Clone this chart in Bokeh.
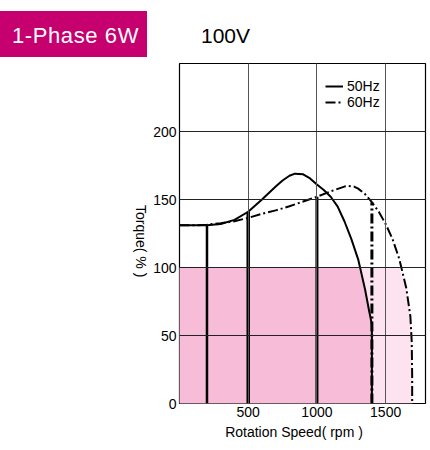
import numpy as np
from bokeh.plotting import figure
from bokeh.models import Range1d, FixedTicker, Legend, LegendItem, Div
from bokeh.layouts import column, row
from bokeh.embed import file_html
from bokeh.resources import INLINE

# ---- data ----
speed_50 = [0, 100, 200, 300, 400, 500, 600, 700, 750, 800, 840, 900, 950, 1000,
            1050, 1100, 1150, 1200, 1250, 1300, 1350, 1380, 1400, 1400]
torque_50 = [131, 131, 131, 132, 135, 141, 150, 159.5, 164, 167.5, 169, 168.5, 165.5, 161,
             157, 152, 145, 134, 121, 106, 84, 68, 58, 0]

speed_60 = [0, 100, 200, 300, 400, 500, 600, 700, 800, 900, 1000, 1100, 1200, 1230,
            1270, 1300, 1350, 1400, 1450, 1500, 1550, 1600, 1650, 1680, 1690, 1693, 1693]
torque_60 = [131, 131, 131.5, 132.5, 134, 136.5, 139.5, 142, 145, 148.5, 152, 156, 159.5, 160,
             159.5, 158, 154, 148, 141, 132, 121, 106, 85, 64, 45, 20, 0]

op_speed = [200, 500, 1000]          # operating-point drop lines (solid)
op_torque = [131, 141, 152]
op60_speed = [1400]                  # operating-point drop line (dash-dot)
op60_torque = [148]

rated_torque = 100
x_ticks = [500, 1000, 1500]
y_ticks = [0, 50, 100, 150, 200]
x_max, y_max = 1790, 250

title_text = "1-Phase 6W"
voltage_text = "100V"
y_label = "Torque( % )"
x_label = "Rotation Speed( rpm )"

# ---- layout ----
PAGE_W = 428
HEAD_H = 60
YLAB_W = 150
BL, BR, BT, BB = 28, 3, 3, 22
FW, FH = 247, 340
FIG_W = BL + FW + BR
FIG_H = BT + FH + BB
XLAB_H = 23

p = figure(width=FIG_W, height=FIG_H, output_backend="svg", toolbar_location=None,
           x_range=Range1d(0, x_max), y_range=Range1d(0, y_max),
           min_border_left=BL, min_border_right=BR, min_border_top=BT, min_border_bottom=BB,
           margin=0)
p.outline_line_color = "black"
p.outline_line_width = 1.2

# fills
s60 = np.array(speed_60, float)
t60 = np.minimum(np.array(torque_60, float), rated_torque)
s50 = np.array(speed_50, float)
t50 = np.minimum(np.array(torque_50, float), rated_torque)
p.varea(x=s60, y1=0, y2=t60, fill_color="#fde3ef")
p.varea(x=s50, y1=0, y2=t50, fill_color="#f6bcd8")

# drop lines
p.segment(x0=op_speed[:1], y0=0, x1=op_speed[:1], y1=op_torque[:1], line_color="black", line_width=2.5)
p.segment(x0=op_speed[1:2], y0=0, x1=op_speed[1:2], y1=op_torque[1:2], line_color="black", line_width=3.5)
p.segment(x0=op_speed[2:], y0=0, x1=op_speed[2:], y1=op_torque[2:], line_color="black", line_width=3)
p.segment(x0=op60_speed, y0=0, x1=op60_speed, y1=op60_torque, line_color="black", line_width=3,
          line_dash="10 3 2 3")

# curves
r50 = p.line(speed_50, torque_50, line_color="black", line_width=2)
r60 = p.line(speed_60, torque_60, line_color="black", line_width=2, line_dash="10 3 2 3")

# axes
for ax in (p.xaxis[0], p.yaxis[0]):
    ax.major_tick_in = 0
    ax.major_tick_out = 0
    ax.minor_tick_in = 0
    ax.minor_tick_out = 0
    ax.axis_line_color = None
    ax.major_label_text_font = "Liberation Sans"
    ax.major_label_text_font_size = "14px"
    ax.major_label_text_color = "black"
p.xaxis.ticker = FixedTicker(ticks=x_ticks)
p.yaxis.ticker = FixedTicker(ticks=y_ticks)
p.xaxis.major_label_standoff = 3
p.yaxis.major_label_standoff = 3

p.xgrid.grid_line_color = "#555555"
p.ygrid.grid_line_color = "#222222"
p.xgrid.level = "guide"
p.ygrid.level = "guide"

# legend
leg = Legend(items=[LegendItem(label="50Hz", renderers=[r50]),
                    LegendItem(label="60Hz", renderers=[r60])],
             location=(146, 293), background_fill_alpha=0, border_line_color=None,
             padding=0, margin=0, spacing=0, glyph_width=18, glyph_height=12,
             label_height=12, label_standoff=4, label_text_font="Liberation Sans",
             label_text_font_size="14px", label_text_line_height=0.9,
             label_text_color="black")
p.add_layout(leg)

FONT = "font-family:'Liberation Sans',Arial,sans-serif;"

header = Div(width=PAGE_W, height=HEAD_H, margin=0, text=f"""
<div style="position:relative;width:{PAGE_W}px;height:{HEAD_H}px;">
  <div style="position:absolute;left:0;top:11px;width:147px;height:46px;background:#c6006f;
              color:#fff;{FONT}font-size:22px;line-height:49px;letter-spacing:0.6px;
              padding-left:12px;box-sizing:border-box;white-space:nowrap;">{title_text}</div>
  <div style="position:absolute;left:201px;top:25px;color:#000;{FONT}font-size:21px;
              line-height:21px;white-space:nowrap;">{voltage_text}</div>
</div>""")

ylab = Div(width=YLAB_W, height=FIG_H, margin=0, text=f"""
<div style="position:relative;width:{YLAB_W}px;height:{FIG_H}px;">
  <div style="position:absolute;left:133px;top:145px;writing-mode:vertical-rl;color:#000;
              {FONT}font-size:14px;line-height:16px;white-space:nowrap;">{y_label}</div>
</div>""")

xlab = Div(width=PAGE_W, height=XLAB_H, margin=0, text=f"""
<div style="position:relative;width:{PAGE_W}px;height:{XLAB_H}px;">
  <div style="position:absolute;left:194px;top:0;width:200px;text-align:center;color:#000;
              {FONT}font-size:14px;line-height:14px;white-space:nowrap;">{x_label}</div>
</div>""")

layout = column(header, row(ylab, p, margin=0, spacing=0), xlab, margin=0, spacing=0)

open("out.html", "w").write(file_html(layout, INLINE))
